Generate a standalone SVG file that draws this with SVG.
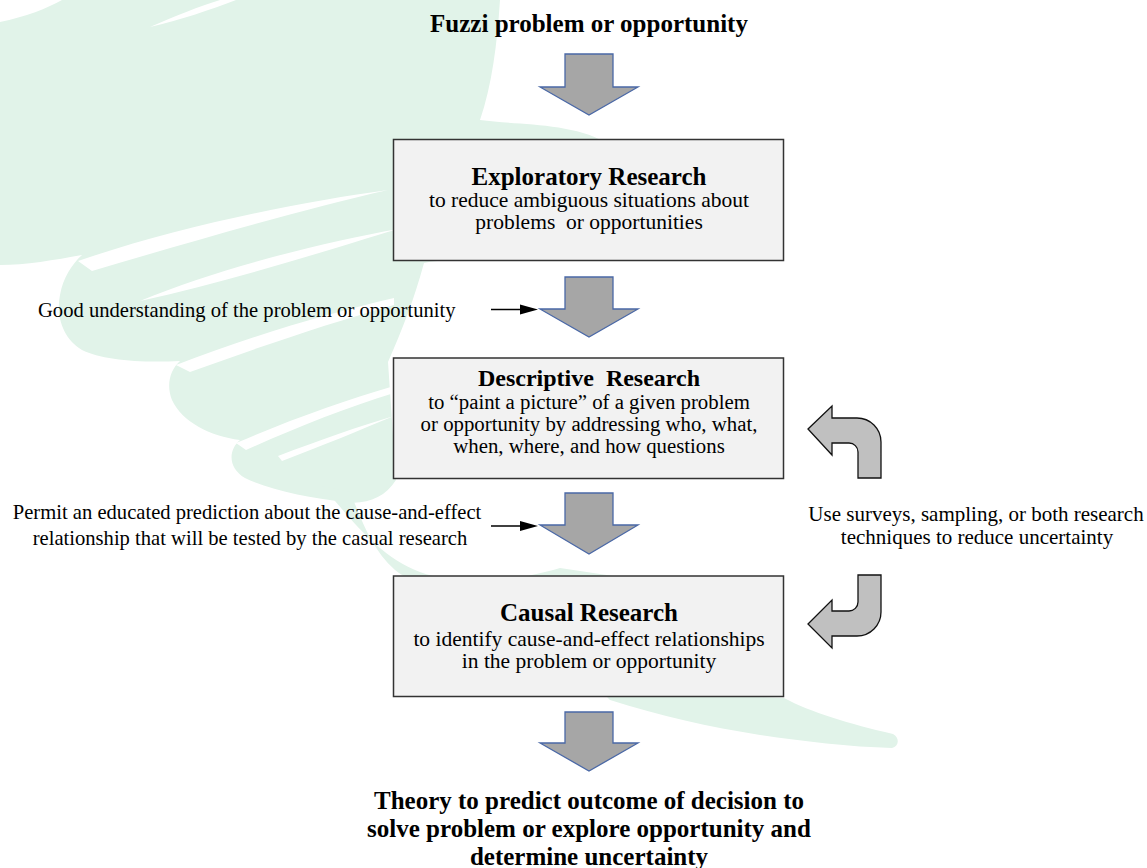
<svg xmlns="http://www.w3.org/2000/svg" width="1147" height="868" viewBox="0 0 1147 868">
<style>
.wm{fill:#e1f3e9;stroke:none}
.gap{fill:#ffffff;stroke:none}
.box{fill:#f2f2f2;stroke:#333333;stroke-width:1.5}
.down{fill:#a6a6a6;stroke:#4a68a6;stroke-width:1.3;stroke-linejoin:miter}
.bend{fill:#c0c0c0;stroke:#111111;stroke-width:1.3;stroke-linejoin:miter}
.lead{stroke:#000000;stroke-width:1.5;fill:none}
.tip{fill:#000000}
text{font-family:"Liberation Serif","Times New Roman",serif;fill:#000000}
.big{font-size:25px;font-weight:bold;text-anchor:middle}
.head2{font-size:24px;font-weight:bold;text-anchor:middle}
.body{font-size:21.5px;text-anchor:middle}
.body2{font-size:20.8px;text-anchor:middle}
.note{font-size:20.6px}
.noteR{font-size:21px;text-anchor:middle}
</style>
<rect x="0" y="0" width="1147" height="868" fill="#ffffff"/>
<g id="watermark">
<path class="wm" d="M 62,0 L 500,0 C 497,45 492,85 480,120 C 515,125 570,122 605,142 L 605,258 C 540,262 460,256 424,263 C 414,300 402,330 388,362 L 396,480 C 385,498 365,505 345,502 C 310,498 270,490 245,478 C 228,468 228,450 240,440 C 210,436 182,422 172,400 C 166,385 170,370 180,361 C 140,363 102,360 82,350 C 62,338 56,315 60,295 C 63,278 72,264 82,255 C 55,260 25,265 0,265 L 0,22 C 25,17 48,8 62,0 Z"/>
<path class="wm" d="M 322,486 C 352,520 378,556 420,572 C 462,588 520,580 560,568 L 640,580 L 640,600 C 600,596 560,590 520,592 C 470,596 420,590 395,570 C 370,548 360,515 350,492 Z"/>
<path class="wm" d="M 600,690 L 784,698 C 810,712 850,724 893,734 C 900,738 899,746 892,748 C 850,747 800,741 760,735 C 710,727 660,716 610,700 Z"/>
<path class="gap" d="M 150,27 C 175,16 200,6 220,0 L 236,0 C 210,10 180,20 150,27 Z"/>
<path class="gap" d="M 78,261 C 180,226 300,202 388,190 C 300,210 190,242 92,271 Z"/>
<path class="gap" d="M 140,301 C 220,268 320,243 398,229 C 325,251 228,282 140,301 Z"/>
<path class="gap" d="M 176,365 C 250,336 330,313 394,298 L 394,305 C 330,323 262,346 190,372 Z"/>
<path class="gap" d="M 236,443 C 290,420 345,400 394,386 L 394,393 C 345,408 295,428 246,450 Z"/>
<path class="gap" d="M 278,456 C 320,440 360,426 394,416 C 360,430 322,446 282,461 Z"/>
<path class="gap" d="M 372,520 C 385,545 405,556 440,561 C 480,565 520,561 548,557 C 515,567 478,571 440,568 C 405,563 385,548 372,520 Z"/>
</g>
<g id="title">
<text class="big" x="589" y="32">Fuzzi problem or opportunity</text>
</g>
<g id="exploratory">
<rect class="box" x="393.5" y="139.5" width="390" height="121"/>
<text class="big" x="589" y="185">Exploratory Research</text>
<text class="body" x="589" y="207">to reduce ambiguous situations about</text>
<text class="body" x="589" y="229" xml:space="preserve" style="white-space:pre">problems  or opportunities</text>
</g>
<g id="descriptive">
<rect class="box" x="393.5" y="358" width="390" height="120.5"/>
<text class="head2" x="589" y="386" xml:space="preserve" style="white-space:pre">Descriptive  Research</text>
<text class="body2" x="589" y="409">to “paint a picture” of a given problem</text>
<text class="body2" x="589" y="431">or opportunity by addressing who, what,</text>
<text class="body2" x="589" y="453">when, where, and how questions</text>
</g>
<g id="causal">
<rect class="box" x="393.5" y="576" width="390" height="120.5"/>
<text class="big" x="589" y="621">Causal Research</text>
<text class="body" x="589" y="646">to identify cause-and-effect relationships</text>
<text class="body" x="589" y="668">in the problem or opportunity</text>
</g>
<g id="outcome">
<text class="big" x="589" y="809">Theory to predict outcome of decision to</text>
<text class="big" x="589" y="837">solve problem or explore opportunity and</text>
<text class="big" x="589" y="865">determine uncertainty</text>
</g>
<g id="note-understanding">
<text class="note" x="38" y="317">Good understanding of the problem or opportunity</text>
</g>
<g id="note-prediction">
<text class="note" x="247" y="519" text-anchor="middle">Permit an educated prediction about the cause-and-effect</text>
<text class="note" x="250" y="545" text-anchor="middle">relationship that will be tested by the casual research</text>
</g>
<g id="note-techniques">
<text class="noteR" x="976" y="521">Use surveys, sampling, or both research</text>
<text class="noteR" x="977" y="544">techniques to reduce uncertainty</text>
</g>
<g id="connectors">
<polygon class="down" points="565,54 613,54 613,87 638,87 589,115 540,87 565,87"/>
<polygon class="down" points="565,277 613,277 613,309 638,309 589,337 540,309 565,309"/>
<polygon class="down" points="565,493 613,493 613,525 638,525 589,554 540,525 565,525"/>
<polygon class="down" points="565,712 613,712 613,743 638,743 589,771 540,743 565,743"/>
<line class="lead" x1="491" y1="309.5" x2="522" y2="309.5"/>
<polygon class="tip" points="520,304.5 538,309.5 520,314.5"/>
<line class="lead" x1="491" y1="526" x2="522" y2="526"/>
<polygon class="tip" points="520,521 538,526 520,531"/>
<path class="bend" d="M 808,429 L 832,406 L 832,418 L 857,418 A 24,24 0 0 1 881,442 L 881,478 L 858,478 L 858,452 A 9,9 0 0 0 849,443 L 832,443 L 832,455 Z"/>
<path class="bend" d="M 808,624 L 832,600 L 832,611 L 849,611 A 9,9 0 0 0 858,602 L 858,575 L 881,575 L 881,612 A 24,24 0 0 1 857,636 L 832,636 L 832,648 Z"/>
</g>
</svg>
